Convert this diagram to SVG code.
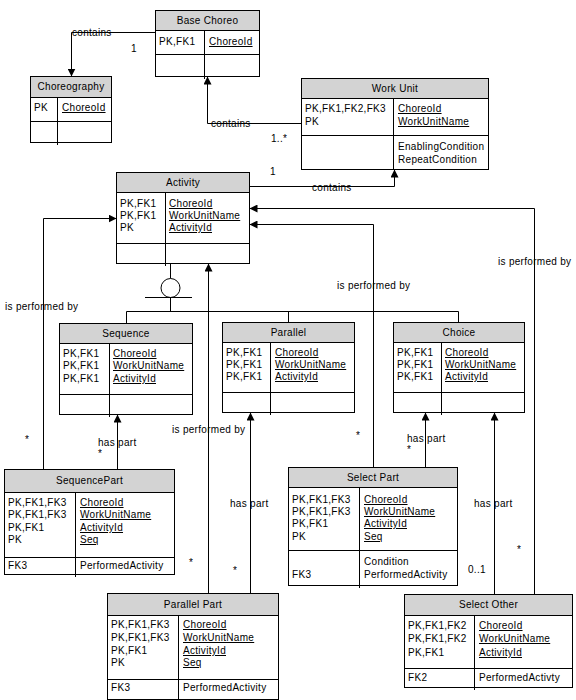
<svg xmlns="http://www.w3.org/2000/svg" width="576" height="700" viewBox="0 0 576 700">
<style>
text { font-family: "Liberation Sans", Arial, sans-serif; font-size: 10px; letter-spacing: 0.3px; fill: #000; }
.c { text-anchor: middle; }
.u { text-decoration: underline; }
.hd { fill: #d3d3d3; stroke: #000; stroke-width: 1; }
.bd { fill: #fff; stroke: #000; stroke-width: 1; }
.ln { fill: none; stroke: #000; stroke-width: 1; }
</style>
<defs>
<marker id="arr" viewBox="0 0 8 8" refX="8" refY="4" markerWidth="8" markerHeight="8" markerUnits="userSpaceOnUse" orient="auto">
<path d="M0,0 L8,4 L0,8 z" fill="#000"/>
</marker>
</defs>
<rect width="576" height="700" fill="#fff"/>

<g id="connectors">
<path class="ln" d="M155.5,32.5 H71.5 V76.5" marker-end="url(#arr)"/>
<path class="ln" d="M301.5,123.5 H207.5 V76.5" marker-end="url(#arr)"/>
<path class="ln" d="M249.5,186.5 H394.5 V169.5" marker-end="url(#arr)"/>
<path class="ln" d="M534.5,594.5 V208.5 H249.5" marker-end="url(#arr)"/>
<path class="ln" d="M373.5,467.5 V224.5 H249.5" marker-end="url(#arr)"/>
<path class="ln" d="M43.5,469.5 V218.5 H116.5" marker-end="url(#arr)"/>
<path class="ln" d="M208.5,593.5 V263.5" marker-end="url(#arr)"/>
<path class="ln" d="M117.5,469.5 V414.5" marker-end="url(#arr)"/>
<path class="ln" d="M250.5,593.5 V412.5" marker-end="url(#arr)"/>
<path class="ln" d="M425.5,467.5 V412.5" marker-end="url(#arr)"/>
<path class="ln" d="M494.5,594.5 V412.5" marker-end="url(#arr)"/>
<path class="ln" d="M170.5,263.5 V278.5"/>
<circle class="bd" cx="170.5" cy="288" r="9.5"/>
<path class="ln" d="M145,297.5 H192 M170.5,297.5 V311.5 M126.5,311.5 H458.5 M126.5,311.5 V323.5 M288.5,311.5 V322.5 M458.5,311.5 V322.5"/>
<text x="72" y="36">contains</text>
<text x="131" y="52">1</text>
<text x="211" y="127">contains</text>
<text x="271" y="142">1..*</text>
<text x="312" y="191">contains</text>
<text x="270" y="175">1</text>
<text x="5" y="310">is performed by</text>
<text x="25" y="443">*</text>
<text x="98" y="446">has part</text>
<text x="98" y="457">*</text>
<text x="172" y="433">is performed by</text>
<text x="356" y="439">*</text>
<text x="407" y="442">has part</text>
<text x="407" y="453">*</text>
<text x="337" y="289">is performed by</text>
<text x="498" y="265">is performed by</text>
<text x="189" y="566">*</text>
<text x="230" y="507">has part</text>
<text x="233" y="574">*</text>
<text x="474" y="507">has part</text>
<text x="517" y="553">*</text>
<text x="468" y="573">0..1</text>
</g>

<g id="base-choreo">
<rect class="bd" x="155.5" y="10.5" width="104" height="66"/>
<rect class="hd" x="155.5" y="10.5" width="104" height="20"/>
<path class="ln" d="M155.5,54.5 H259.5 M204.5,30.5 V79"/>
<text class="c" x="207.5" y="24">Base Choreo</text>
<text x="159" y="45">PK,FK1</text>
<text class="u" x="209" y="45">ChoreoId</text>
</g>

<g id="choreography">
<rect class="bd" x="30.5" y="76.5" width="81" height="66"/>
<rect class="hd" x="30.5" y="76.5" width="81" height="21"/>
<path class="ln" d="M30.5,121.5 H111.5 M57.5,97.5 V145"/>
<text class="c" x="71" y="90">Choreography</text>
<text x="34" y="111">PK</text>
<text class="u" x="62" y="111">ChoreoId</text>
</g>

<g id="work-unit">
<rect class="bd" x="301.5" y="78.5" width="187" height="91"/>
<rect class="hd" x="301.5" y="78.5" width="187" height="20"/>
<path class="ln" d="M301.5,135.5 H488.5 M393.5,98.5 V170"/>
<text class="c" x="395" y="92">Work Unit</text>
<text x="305" y="112">PK,FK1,FK2,FK3</text>
<text x="305" y="125">PK</text>
<text class="u" x="398" y="112">ChoreoId</text>
<text class="u" x="398" y="125">WorkUnitName</text>
<text x="398" y="150">EnablingCondition</text>
<text x="398" y="163">RepeatCondition</text>
</g>

<g id="activity">
<rect class="bd" x="116.5" y="172.5" width="133" height="91"/>
<rect class="hd" x="116.5" y="172.5" width="133" height="20"/>
<path class="ln" d="M116.5,243.5 H249.5 M165.5,192.5 V266"/>
<text class="c" x="183" y="186">Activity</text>
<text x="120" y="207">PK,FK1</text>
<text x="120" y="219">PK,FK1</text>
<text x="120" y="231">PK</text>
<text class="u" x="169" y="207">ChoreoId</text>
<text class="u" x="169" y="219">WorkUnitName</text>
<text class="u" x="169" y="231">ActivityId</text>
</g>

<g id="sequence">
<rect class="bd" x="59.5" y="323.5" width="133" height="91"/>
<rect class="hd" x="59.5" y="323.5" width="133" height="20"/>
<path class="ln" d="M59.5,394.5 H192.5 M109.5,343.5 V417"/>
<text class="c" x="126" y="337">Sequence</text>
<text x="63" y="357">PK,FK1</text>
<text x="63" y="369">PK,FK1</text>
<text x="63" y="382">PK,FK1</text>
<text class="u" x="113" y="357">ChoreoId</text>
<text class="u" x="113" y="369">WorkUnitName</text>
<text class="u" x="113" y="382">ActivityId</text>
</g>

<g id="parallel">
<rect class="bd" x="222.5" y="322.5" width="132" height="90"/>
<rect class="hd" x="222.5" y="322.5" width="132" height="20"/>
<path class="ln" d="M222.5,392.5 H354.5 M270.5,342.5 V415"/>
<text class="c" x="288.5" y="336">Parallel</text>
<text x="226" y="356">PK,FK1</text>
<text x="226" y="368">PK,FK1</text>
<text x="226" y="380">PK,FK1</text>
<text class="u" x="275" y="356">ChoreoId</text>
<text class="u" x="275" y="368">WorkUnitName</text>
<text class="u" x="275" y="380">ActivityId</text>
</g>

<g id="choice">
<rect class="bd" x="393.5" y="322.5" width="131" height="90"/>
<rect class="hd" x="393.5" y="322.5" width="131" height="20"/>
<path class="ln" d="M393.5,392.5 H524.5 M441.5,342.5 V415"/>
<text class="c" x="459" y="336">Choice</text>
<text x="397" y="356">PK,FK1</text>
<text x="397" y="368">PK,FK1</text>
<text x="397" y="380">PK,FK1</text>
<text class="u" x="445" y="356">ChoreoId</text>
<text class="u" x="445" y="368">WorkUnitName</text>
<text class="u" x="445" y="380">ActivityId</text>
</g>

<g id="sequence-part">
<rect class="bd" x="4.5" y="469.5" width="170" height="105"/>
<rect class="hd" x="4.5" y="469.5" width="170" height="23"/>
<path class="ln" d="M4.5,557.5 H174.5 M75.5,492.5 V577"/>
<text class="c" x="89.5" y="484">SequencePart</text>
<text x="8" y="506">PK,FK1,FK3</text>
<text x="8" y="518">PK,FK1,FK3</text>
<text x="8" y="531">PK,FK1</text>
<text x="8" y="543">PK</text>
<text class="u" x="80" y="506">ChoreoId</text>
<text class="u" x="80" y="518">WorkUnitName</text>
<text class="u" x="80" y="531">ActivityId</text>
<text class="u" x="80" y="543">Seq</text>
<text x="8" y="569">FK3</text>
<text x="80" y="569">PerformedActivity</text>
</g>

<g id="select-part">
<rect class="bd" x="288.5" y="467.5" width="169" height="118"/>
<rect class="hd" x="288.5" y="467.5" width="169" height="20"/>
<path class="ln" d="M288.5,550.5 H457.5 M359.5,487.5 V588"/>
<text class="c" x="373" y="481">Select Part</text>
<text x="292" y="503">PK,FK1,FK3</text>
<text x="292" y="515">PK,FK1,FK3</text>
<text x="292" y="527">PK,FK1</text>
<text x="292" y="540">PK</text>
<text class="u" x="364" y="503">ChoreoId</text>
<text class="u" x="364" y="515">WorkUnitName</text>
<text class="u" x="364" y="527">ActivityId</text>
<text class="u" x="364" y="540">Seq</text>
<text x="364" y="565">Condition</text>
<text x="292" y="578">FK3</text>
<text x="364" y="578">PerformedActivity</text>
</g>

<g id="parallel-part">
<rect class="bd" x="107.5" y="593.5" width="171" height="106"/>
<rect class="hd" x="107.5" y="593.5" width="171" height="22"/>
<path class="ln" d="M107.5,679.5 H278.5 M178.5,615.5 V700"/>
<text class="c" x="193" y="608">Parallel Part</text>
<text x="111" y="628">PK,FK1,FK3</text>
<text x="111" y="641">PK,FK1,FK3</text>
<text x="111" y="654">PK,FK1</text>
<text x="111" y="666">PK</text>
<text class="u" x="183" y="628">ChoreoId</text>
<text class="u" x="183" y="641">WorkUnitName</text>
<text class="u" x="183" y="654">ActivityId</text>
<text class="u" x="183" y="666">Seq</text>
<text x="111" y="691">FK3</text>
<text x="183" y="691">PerformedActivity</text>
</g>

<g id="select-other">
<rect class="bd" x="404.5" y="594.5" width="168" height="93"/>
<rect class="hd" x="404.5" y="594.5" width="168" height="21"/>
<path class="ln" d="M404.5,668.5 H572.5 M474.5,615.5 V690"/>
<text class="c" x="488.5" y="608">Select Other</text>
<text x="408" y="629">PK,FK1,FK2</text>
<text x="408" y="642">PK,FK1,FK2</text>
<text x="408" y="656">PK,FK1</text>
<text class="u" x="479" y="629">ChoreoId</text>
<text class="u" x="479" y="642">WorkUnitName</text>
<text class="u" x="479" y="656">ActivityId</text>
<text x="408" y="681">FK2</text>
<text x="479" y="681">PerformedActivty</text>
</g>
</svg>
